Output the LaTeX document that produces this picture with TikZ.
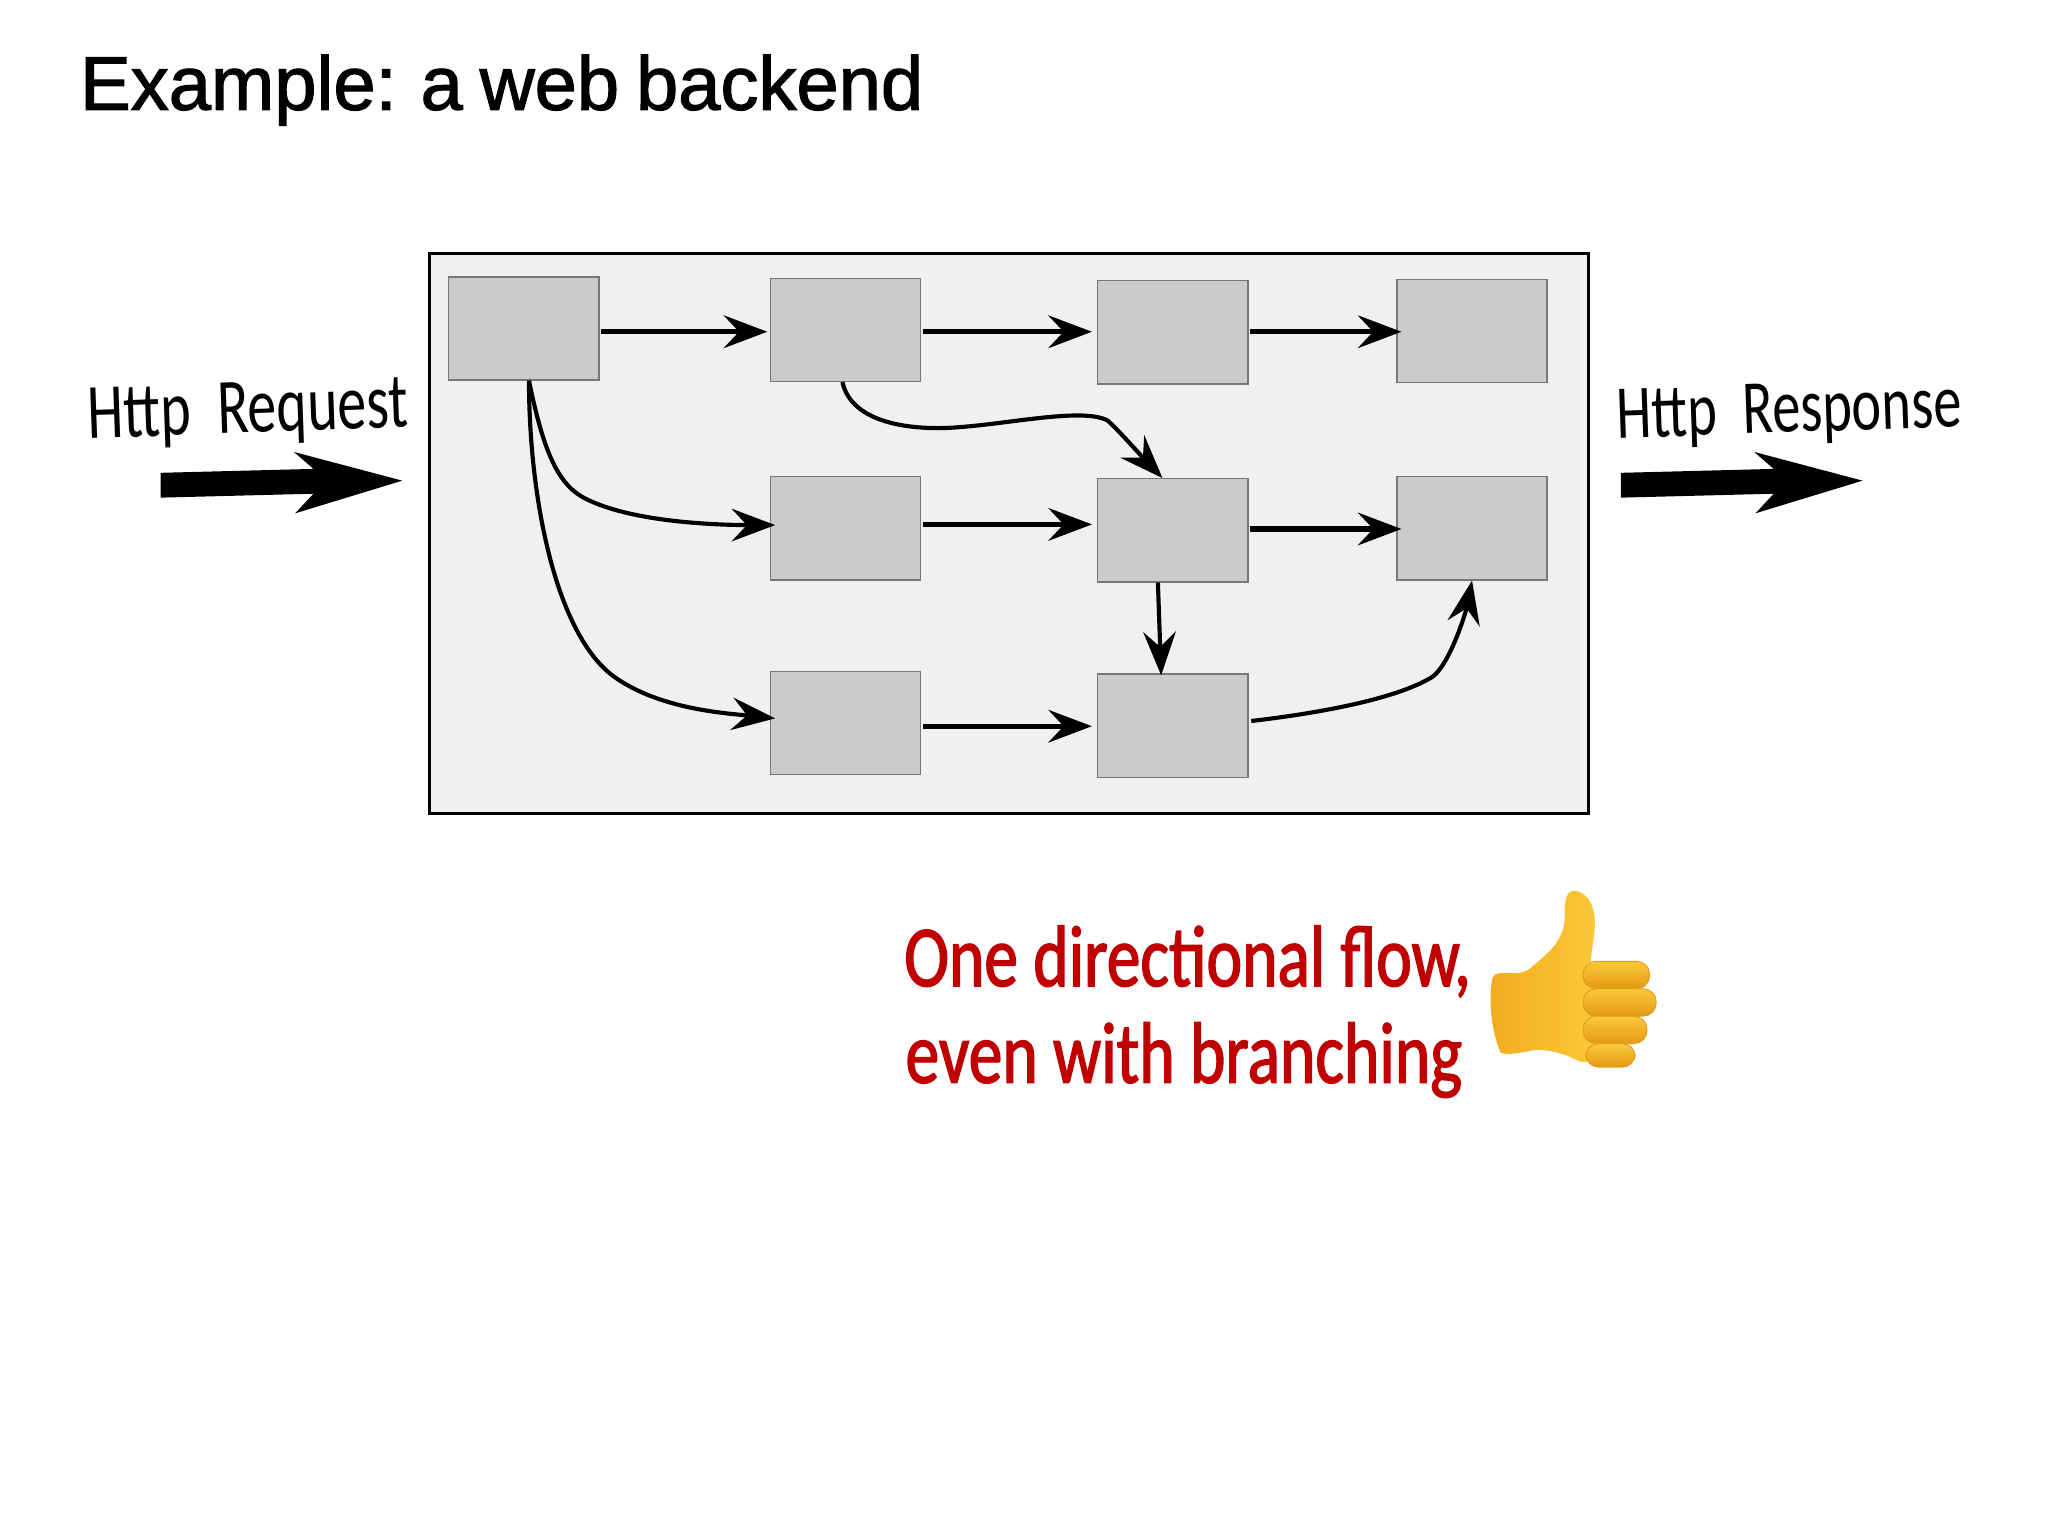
\documentclass[tikz,border=0pt]{standalone}
\usepackage{fontspec}
\usetikzlibrary{arrows.meta}
\newfontfamily\titlefont{Liberation Sans}[FakeBold=1.6,WordSpace=0.8]
\newfontfamily\handfont{Carlito}[FakeStretch=0.74]
\newfontfamily\notefont{Carlito}[FakeStretch=0.775,FakeBold=1.6]

\definecolor{panelgrey}{HTML}{F0F0F0}
\definecolor{stagegrey}{HTML}{CBCBCB}
\definecolor{stageline}{HTML}{777777}
\definecolor{notered}{HTML}{C00000}
\definecolor{thumblight}{HTML}{FBC93A}
\definecolor{thumbmid}{HTML}{F2AC1E}
\definecolor{thumbdark}{HTML}{E39A12}

\tikzset{
	stage/.style={draw=stageline, fill=stagegrey, line width=0.6pt, minimum width=69pt, minimum height=47.4pt, inner sep=0pt},
	arc/.style={-{Stealth[length=20pt, width=15pt, inset=7pt]}, line width=2.4pt},
	curvearc/.style={-{Stealth[length=20pt, width=15pt, inset=7pt]}, line width=1.9pt},
	hand/.style={font=\handfont\fontsize{36}{36}\selectfont, inner sep=0pt},
	note/.style={font=\notefont\fontsize{40}{40}\selectfont, text=notered, inner sep=0pt},
	finger/.style={top color=thumblight, bottom color=thumbdark, draw=thumbdark, line width=0.4pt, rounded corners=6pt},
}

\begin{document}
\begin{tikzpicture}[x=0.6pt, y=-0.6pt]
\useasboundingbox (0,0) rectangle (1568,1176);

% TITLE
\node[anchor=base west, inner sep=0pt, font=\titlefont\fontsize{34.9}{34.9}\selectfont] (title) at(61, 84) {Example: a web backend};

% PANEL
\node[draw=black, fill=panelgrey, line width=1.3pt, minimum width=532.2pt, minimum height=257.4pt, inner sep=0pt] (panel) at(772.5, 408.5) {};

% NODES
\foreach \name/\x/\y in{
	a1/401/251.5, a2/647.5/252.5, a3/898/254.5, a4/1127/253.5,
	b2/647.5/404.5, b3/898/406, b4/1127/404.5,
	c2/647.5/553.5, c3/898/555.5%
}{
	\node[stage] (\name) at(\x,\y) {};
}

% ARCS
\foreach \u/\v/\su/\sv/\dx in{
	a1/a2/2.5/1.5/-2, a2/a3/1.5/-0.5/-4, a3/a4/-0.5/0.5/4,
	b2/b3/-3/-4.5/-4, b3/b4/-1/0.5/4,
	c2/c3/2.5/0.5/-4%
}{
	\draw[arc] ([shift={(1,\su)}]\u.east) -- ([shift={(\dx,\sv)}]\v.west);
}

\draw[curvearc] ([shift={(4,0)}]a1.south) .. controls (415,340) and (425,368) .. (445,380)
	.. controls (480,400) and (550,402) .. ([shift={(4,-2.5)}]b2.west);
\draw[curvearc] ([shift={(4,0)}]a1.south) .. controls (405,380) and (425,485) .. (470,518)
	.. controls (505,543) and (555,546) .. ([shift={(4,-3.5)}]c2.west);
\draw[curvearc] ([shift={(-2.5,0)}]a2.south) .. controls (652,325) and (700,330) .. (735,327)
	.. controls (775,324) and (830,312) .. (848,322)
	.. controls (855,328) and (870,345) .. ([shift={(-8,0)}]b3.north);
\draw[curvearc] ([shift={(-11.5,0)}]b3.south) -- ([shift={(-9,1.5)}]c3.north);
\draw[curvearc] ([shift={(2,-3.5)}]c3.east) .. controls (1010,546) and (1070,535) .. (1097,518)
	.. controls (1110,508) and (1122,470) .. ([shift={(0,0)}]b4.south);

% LABELS
\node[hand, rotate=2] (request) at(190, 317) {Http\ \ Request};
\node[hand, rotate=2, font=\handfont\fontsize{35}{35}\selectfont] (response) at(1370, 317) {Http\ \ Response};

\foreach \s in{0, 1118}{
	\fill[black, xshift=\s*0.6pt] (123,362) -- (240,359) -- (225,346) -- (308,368)
		-- (226,393) -- (240,378) -- (123,381) -- cycle;
}

% NOTE
\node[note, anchor=base west] (line1) at(692, 755) {One directional flow,};
\node[note, anchor=base west] (line2) at(693, 829) {even with branching};

% THUMB
\path[left color=thumbmid, right color=thumblight, draw=none]
	(1204,682) .. controls (1216,682) and (1222,695) .. (1221,710)
	.. controls (1220,722) and (1218,730) .. (1218,738) -- (1225,800)
	.. controls (1222,812) and (1215,815) .. (1208,812)
	.. controls (1195,805) and (1180,803) .. (1174,804)
	.. controls (1165,806) and (1155,808) .. (1149,806)
	.. controls (1142,790) and (1140,770) .. (1142,752)
	.. controls (1143,745) and (1146,745) .. (1152,745)
	.. controls (1160,745) and (1166,746) .. (1172,741)
	.. controls (1185,730) and (1198,720) .. (1198,702)
	.. controls (1198,692) and (1198,684) .. (1204,682) -- cycle;
\path[finger] (1212,736) rectangle (1263,757);
\path[finger] (1212,757) rectangle (1268,778);
\path[finger] (1212,778) rectangle (1261,799);
\path[finger] (1214,799) rectangle (1252,817);

\end{tikzpicture}
\end{document}
